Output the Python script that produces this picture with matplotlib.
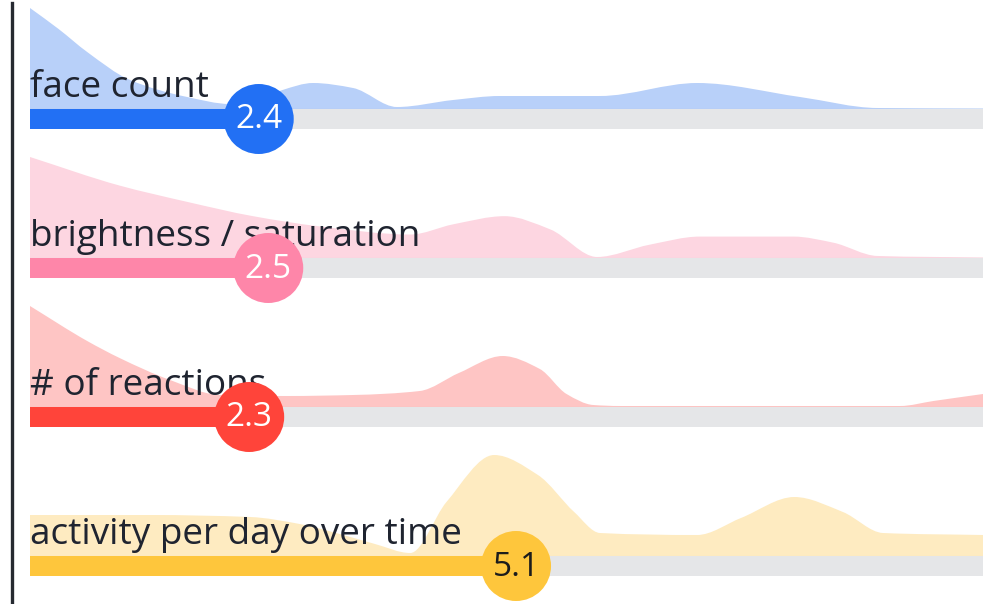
import numpy as np
import matplotlib.pyplot as plt
from matplotlib.path import Path
from matplotlib.patches import PathPatch
from matplotlib.lines import Line2D

plt.rcParams['font.family'] = ['Open Sans', 'DejaVu Sans']

# metric names and scores (0-10 scale)
labels = ["face count", "brightness / saturation", "# of reactions", "activity per day over time"]
scores = [2.4, 2.5, 2.3, 5.1]

# distribution shapes: positions on the 0-10 scale and relative density
face_x = [0, 0.3, 0.6, 1.05, 1.65, 2.1, 2.41, 2.65, 2.97, 3.39, 3.85, 4.44, 4.93, 5.98, 7.0, 8.08, 8.89, 10]
face_d = [101, 80, 57, 29, 12, 5, 9, 19, 26, 21, 2, 9, 13, 13, 26, 12, 1, 0.5]

bright_x = [0, 0.94, 1.65, 2.34, 3.04, 3.99, 4.44, 4.98, 5.46, 5.95, 6.5, 7.03, 8.01, 8.43, 8.89, 10]
bright_d = [99, 71, 55, 41, 31, 23, 33, 41, 28, 1, 13, 21, 21, 15, 2, 0.5]

react_x = [0, 0.6, 0.94, 1.47, 1.99, 2.7, 3.39, 4.09, 4.5, 4.96, 5.35, 5.63, 5.91, 6.19, 9.13, 9.48, 10]
react_d = [101, 66, 49, 27, 12, 11, 12, 16, 34, 51, 38, 13, 2, 1, 1, 6, 13]

act_x = [0, 1.26, 2.31, 2.83, 3.25, 3.62, 3.99, 4.37, 4.87, 5.33, 5.71, 5.98, 7.0, 7.46, 8.02, 8.53, 8.95, 10]
act_d = [41, 41, 39, 32, 22, 12, 3, 54, 101, 81, 44, 23, 21, 38, 59, 44, 23, 21]

dists = [(face_x, face_d), (bright_x, bright_d), (react_x, react_d), (act_x, act_d)]

bar_colors = ["#2270f4", "#fe86a9", "#ff443a", "#fec63c"]
area_colors = ["#b8d0f9", "#fdd6e1", "#fec5c4", "#feebc1"]
edge_colors = ["#a9b8d6", "#e9c5d0", "#ebbcbc", "#eedcb2"]
value_colors = ["white", "white", "white", "#1c1c1c"]


def tangents(x, y):
    x = np.asarray(x, float)
    y = np.asarray(y, float)
    h = np.diff(x)
    d = np.diff(y) / h
    m = np.zeros_like(y)
    m[0] = d[0]
    m[-1] = d[-1]
    for k in range(1, len(x) - 1):
        if d[k - 1] * d[k] <= 0:
            m[k] = 0
        else:
            w1 = 2 * h[k] + h[k - 1]
            w2 = h[k] + 2 * h[k - 1]
            m[k] = (w1 + w2) / (w1 / d[k - 1] + w2 / d[k])
    return m


def area_path(x, y, base):
    m = tangents(x, y)
    verts = [(x[0], base), (x[0], y[0])]
    codes = [Path.MOVETO, Path.LINETO]
    for k in range(len(x) - 1):
        dx = (x[k + 1] - x[k]) / 3
        verts += [(x[k] + dx, y[k] + m[k] * dx),
                  (x[k + 1] - dx, y[k + 1] - m[k + 1] * dx),
                  (x[k + 1], y[k + 1])]
        codes += [Path.CURVE4] * 3
    verts += [(x[-1], base), (x[0], base)]
    codes += [Path.LINETO, Path.CLOSEPOLY]
    return Path(verts, codes)


fig = plt.figure(figsize=(9.89, 6.04), dpi=100)
ax = fig.add_axes([30 / 989, 0, 953 / 989, 1])
ax.set_xlim(0, 10)
ax.set_ylim(604, 0)
ax.axis("off")

row_top = 109
row_gap = 149
track_h = 20
peak_h = 101

for i, (name, score) in enumerate(zip(labels, scores)):
    base = row_top + i * row_gap
    xs, ds = dists[i]
    ds = np.asarray(ds, float)
    ys = base - ds / ds.max() * peak_h
    ax.add_patch(PathPatch(area_path(xs, ys, base), facecolor=area_colors[i],
                           edgecolor="none", zorder=1))
    ax.plot([0, 10], [base, base], color=edge_colors[i], lw=0.8, zorder=1.5)

    ax.text(0, base - 12, name, fontsize=26.6, color="#1f2430",
            ha="left", va="baseline", zorder=2)

    ax.barh(base + track_h / 2, 10, height=track_h, left=0, color="#e5e6e8", zorder=3)
    ax.barh(base + track_h / 2, score, height=track_h, left=0, color=bar_colors[i], zorder=4)

    ax.scatter([score], [base + track_h / 2], s=2540, color=bar_colors[i],
               edgecolors="none", zorder=5, clip_on=False)
    ax.text(score, base + track_h / 2 + 1, f"{score}", fontsize=24,
            color=value_colors[i], ha="center", va="center", zorder=6)

fig.add_artist(Line2D([12 / 989, 12 / 989], [1 - 3 / 604, 0], transform=fig.transFigure,
                      color="#262a31", lw=2.4))

fig.savefig("out.png", dpi=100)
